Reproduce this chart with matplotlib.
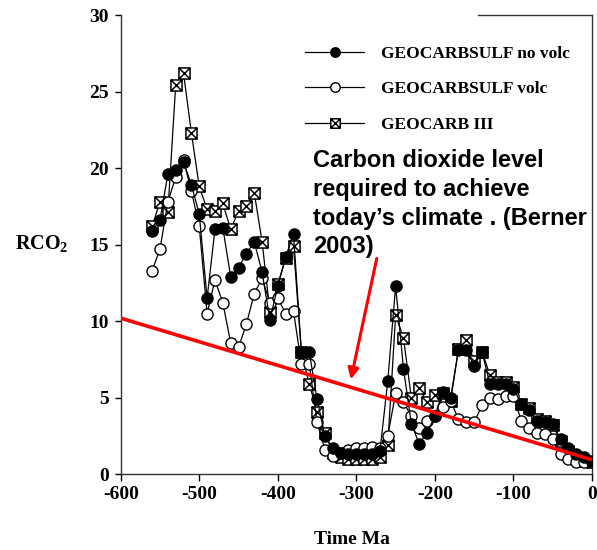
import matplotlib
matplotlib.use("Agg")
import matplotlib.pyplot as plt
from matplotlib.path import Path
import numpy as np

# ---------------- data ----------------
time_ma = list(range(-560, 1, 10))

no_volc = [15.9, 16.6, 19.6, 19.9, 20.4, 18.9, 17.0, 11.5, 16.0, 16.1,
           12.9, 13.5, 14.4, 15.2, 13.2, 10.1, 12.3, 14.2, 15.7, 8.0,
           8.0, 4.9, 2.5, 1.7, 1.4, 1.35, 1.3, 1.3, 1.35, 1.5,
           6.1, 12.3, 6.9, 3.3, 2.0, 2.7, 3.8, 5.4, 5.0, 8.1,
           8.1, 7.1, 8.0, 5.9, 5.9, 5.9, 5.6, 4.6, 4.2, 3.5,
           3.4, 3.3, 2.3, 1.7, 1.3, 1.1, 0.9]

volc = [13.3, 14.7, 17.8, 19.4, 20.5, 18.5, 16.2, 10.5, 12.7, 11.2,
        8.6, 8.3, 9.8, 11.8, 12.8, 11.2, 11.5, 10.5, 10.65, 7.2,
        7.2, 3.4, 1.6, 1.2, 1.4, 1.6, 1.7, 1.7, 1.8, 1.7,
        2.5, 5.3, 4.7, 3.8, 3.0, 3.5, 3.8, 4.4, 4.8, 3.6,
        3.4, 3.4, 4.5, 5.0, 4.9, 5.1, 5.1, 3.5, 3.0, 2.7,
        2.6, 2.3, 1.3, 1.0, 0.8, 0.8, 0.8]

geocarb3 = [16.2, 17.8, 17.1, 25.4, 26.2, 22.3, 18.8, 17.3, 17.2, 17.7,
            16.0, 17.2, 17.5, 18.4, 15.2, 10.6, 12.4, 14.1, 14.9, 8.0,
            5.9, 4.1, 2.7, 1.4, 1.1, 1.0, 1.0, 1.0, 1.0, 1.1,
            1.9, 10.4, 8.9, 5.0, 5.65, 4.7, 5.2, 5.3, 4.8, 8.2,
            8.8, 7.4, 8.0, 6.5, 6.0, 6.0, 5.7, 4.6, 4.3, 3.6,
            3.5, 3.2, 2.2, 1.5, 1.1, 0.9, 0.8]

trend_x = [-600, 0]
trend_y = [10.2, 0.95]

arrow_tip = (-307, 6.2)
arrow_tail = (-274, 14.1)

series_labels = ["GEOCARBSULF no volc", "GEOCARBSULF volc", "GEOCARB III"]
x_ticks = [-600, -500, -400, -300, -200, -100, 0]
y_ticks = [0, 5, 10, 15, 20, 25, 30]
annotation = "Carbon dioxide level\nrequired to achieve\ntoday\u2019s climate . (Berner\n2003)"

# ---------------- figure ----------------
plt.rcParams["mathtext.fontset"] = "custom"
plt.rcParams["mathtext.rm"] = "Liberation Serif:bold"
plt.rcParams["mathtext.default"] = "rm"

W, H = 597, 550
fig = plt.figure(figsize=(W / 100, H / 100), dpi=100)
ax = fig.add_axes([120.7 / W, 1 - 474.3 / H, (592 - 120.7) / W, (474.3 - 15) / H])

serif = "Liberation Serif"
sans = "Liberation Sans"

# box-with-cross marker
verts = [(-1, -1), (1, -1), (1, 1), (-1, 1), (-1, -1),
         (-1, -1), (1, 1), (-1, 1), (1, -1)]
codes = [Path.MOVETO, Path.LINETO, Path.LINETO, Path.LINETO, Path.CLOSEPOLY,
         Path.MOVETO, Path.LINETO, Path.MOVETO, Path.LINETO]
box_x = Path(verts, codes)

lw = 0.9
ms = 8
h3, = ax.plot(time_ma, geocarb3, color="black", lw=lw, marker=box_x, ms=ms,
              mfc="white", mec="black", mew=1.1, zorder=3)
h2, = ax.plot(time_ma, volc, color="black", lw=lw, marker="o", ms=ms,
              mfc="white", mec="black", mew=1.0, zorder=4)
h1, = ax.plot(time_ma, no_volc, color="black", lw=lw, marker="o", ms=ms,
              mfc="black", mec="black", mew=1.0, zorder=5)

ax.plot(trend_x, trend_y, color="#ff0000", lw=2.6, zorder=6, solid_capstyle="butt")

ax.annotate("", xy=arrow_tip, xytext=arrow_tail, xycoords="data", textcoords="data",
            arrowprops=dict(arrowstyle="-|>", color="#ff0000", lw=2.2,
                            mutation_scale=16, shrinkA=0, shrinkB=0), zorder=7)

ax.set_xlim(-600, 0)
ax.set_ylim(0, 30)
ax.set_xticks(x_ticks)
ax.set_yticks(y_ticks)
ax.set_xticklabels([str(v) for v in x_ticks], fontfamily=serif, fontweight="bold", fontsize=14)
ax.set_yticklabels([str(v) for v in y_ticks], fontfamily=serif, fontweight="bold", fontsize=14)
ax.tick_params(axis="x", direction="out", length=5, width=1, pad=3.5)
ax.tick_params(axis="y", direction="out", length=4, width=1, pad=4.5)

for s in ["left", "bottom", "right"]:
    ax.spines[s].set_linewidth(1.0)
    ax.spines[s].set_color("#333333")
ax.spines["top"].set_visible(False)
ax.plot([0.758, 1.0], [1.0, 1.0], transform=ax.transAxes, color="#333333",
        lw=1.0, clip_on=False, zorder=2)

# legend
leg = ax.legend([h1, h2, h3], series_labels, loc="upper left",
                bbox_to_anchor=(305 / W, 1 - 46 / H), bbox_transform=fig.transFigure,
                frameon=False, prop=dict(family=serif, weight="bold", size=12.5),
                handlelength=3.4, handletextpad=1.0, labelspacing=1.1,
                borderpad=0, borderaxespad=0, markerscale=0.85)

# annotation text
fig.text(313 / W, 1 - 149 / H, annotation, ha="left", va="top",
         fontfamily=sans, fontweight="bold", fontsize=17, linespacing=1.32)

# axis labels
fig.text(42 / W, 1 - 243 / H, "RCO$_2$", ha="center", va="center",
         fontfamily=serif, fontweight="bold", fontsize=14.5)
fig.text(352 / W, 1 - 540 / H, "Time Ma", ha="center", va="center",
         fontfamily=serif, fontweight="bold", fontsize=14)

fig.savefig("out.png", dpi=100)
